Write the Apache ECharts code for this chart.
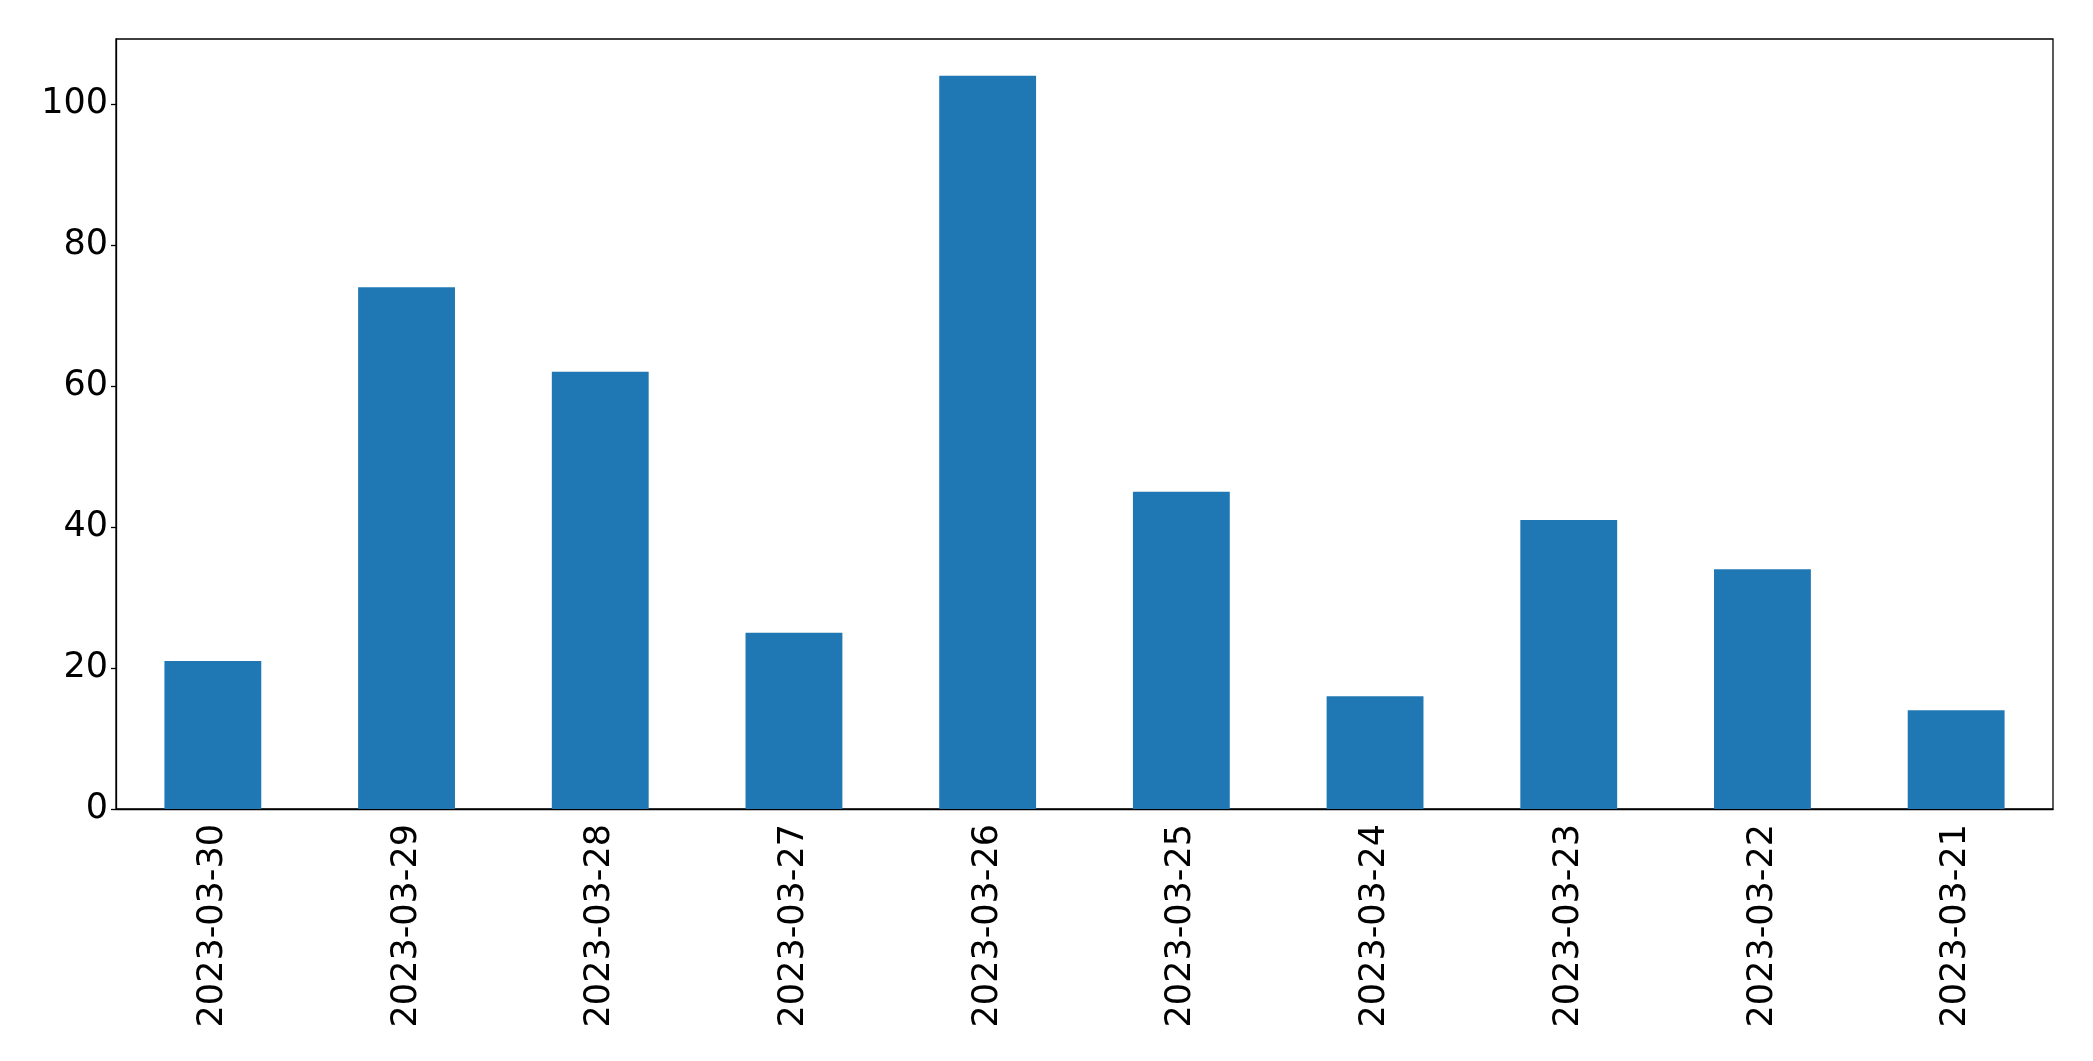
<!DOCTYPE html>
<html>
<head>
<meta charset="utf-8">
<script src="https://cdn.jsdelivr.net/npm/echarts@6/dist/echarts.min.js"></script>
<style>
html,body{margin:0;padding:0;background:#fff;}
#chart{width:2093px;height:1061px;}
</style>
</head>
<body>
<div id="chart"></div>
<script>
const categories = ["2023-03-30","2023-03-29","2023-03-28","2023-03-27","2023-03-26","2023-03-25","2023-03-24","2023-03-23","2023-03-22","2023-03-21"];
const values = [21, 74, 62, 25, 104, 45, 16, 41, 34, 14];
const yTicks = [0, 20, 40, 60, 80, 100];

const chart = echarts.init(document.getElementById('chart'), null, {renderer: 'canvas'});
const font = 'DejaVu Sans';
chart.setOption({
  animation: false,
  backgroundColor: '#fff',
  grid: {left: 116, right: 40, top: 39, bottom: 252, show: true, borderColor: '#000', borderWidth: 1.3, backgroundColor: 'transparent'},
  xAxis: {
    type: 'category',
    data: categories,
    boundaryGap: true,
    axisLine: {lineStyle: {color: '#000', width: 1.3}},
    axisTick: {alignWithLabel: true, length: 5, lineStyle: {color: '#000', width: 1.3}},
    axisLabel: {rotate: 90, color: '#000', fontFamily: font, fontSize: 35, margin: 15, interval: 0}
  },
  yAxis: {
    type: 'value',
    min: 0,
    max: 109.2,
    interval: 20,
    splitLine: {show: false},
    axisLine: {show: true, lineStyle: {color: '#000', width: 1.3}},
    axisTick: {show: true, length: 5, lineStyle: {color: '#000', width: 1.3}},
    axisLabel: {color: '#000', fontFamily: font, fontSize: 35, margin: 8, showMaxLabel: false,
      formatter: v => yTicks.includes(v) ? String(v) : ''}
  },
  series: [{
    type: 'bar',
    data: values,
    barWidth: '50%',
    itemStyle: {color: '#1f77b4'}
  }]
});
</script>
</body>
</html>
